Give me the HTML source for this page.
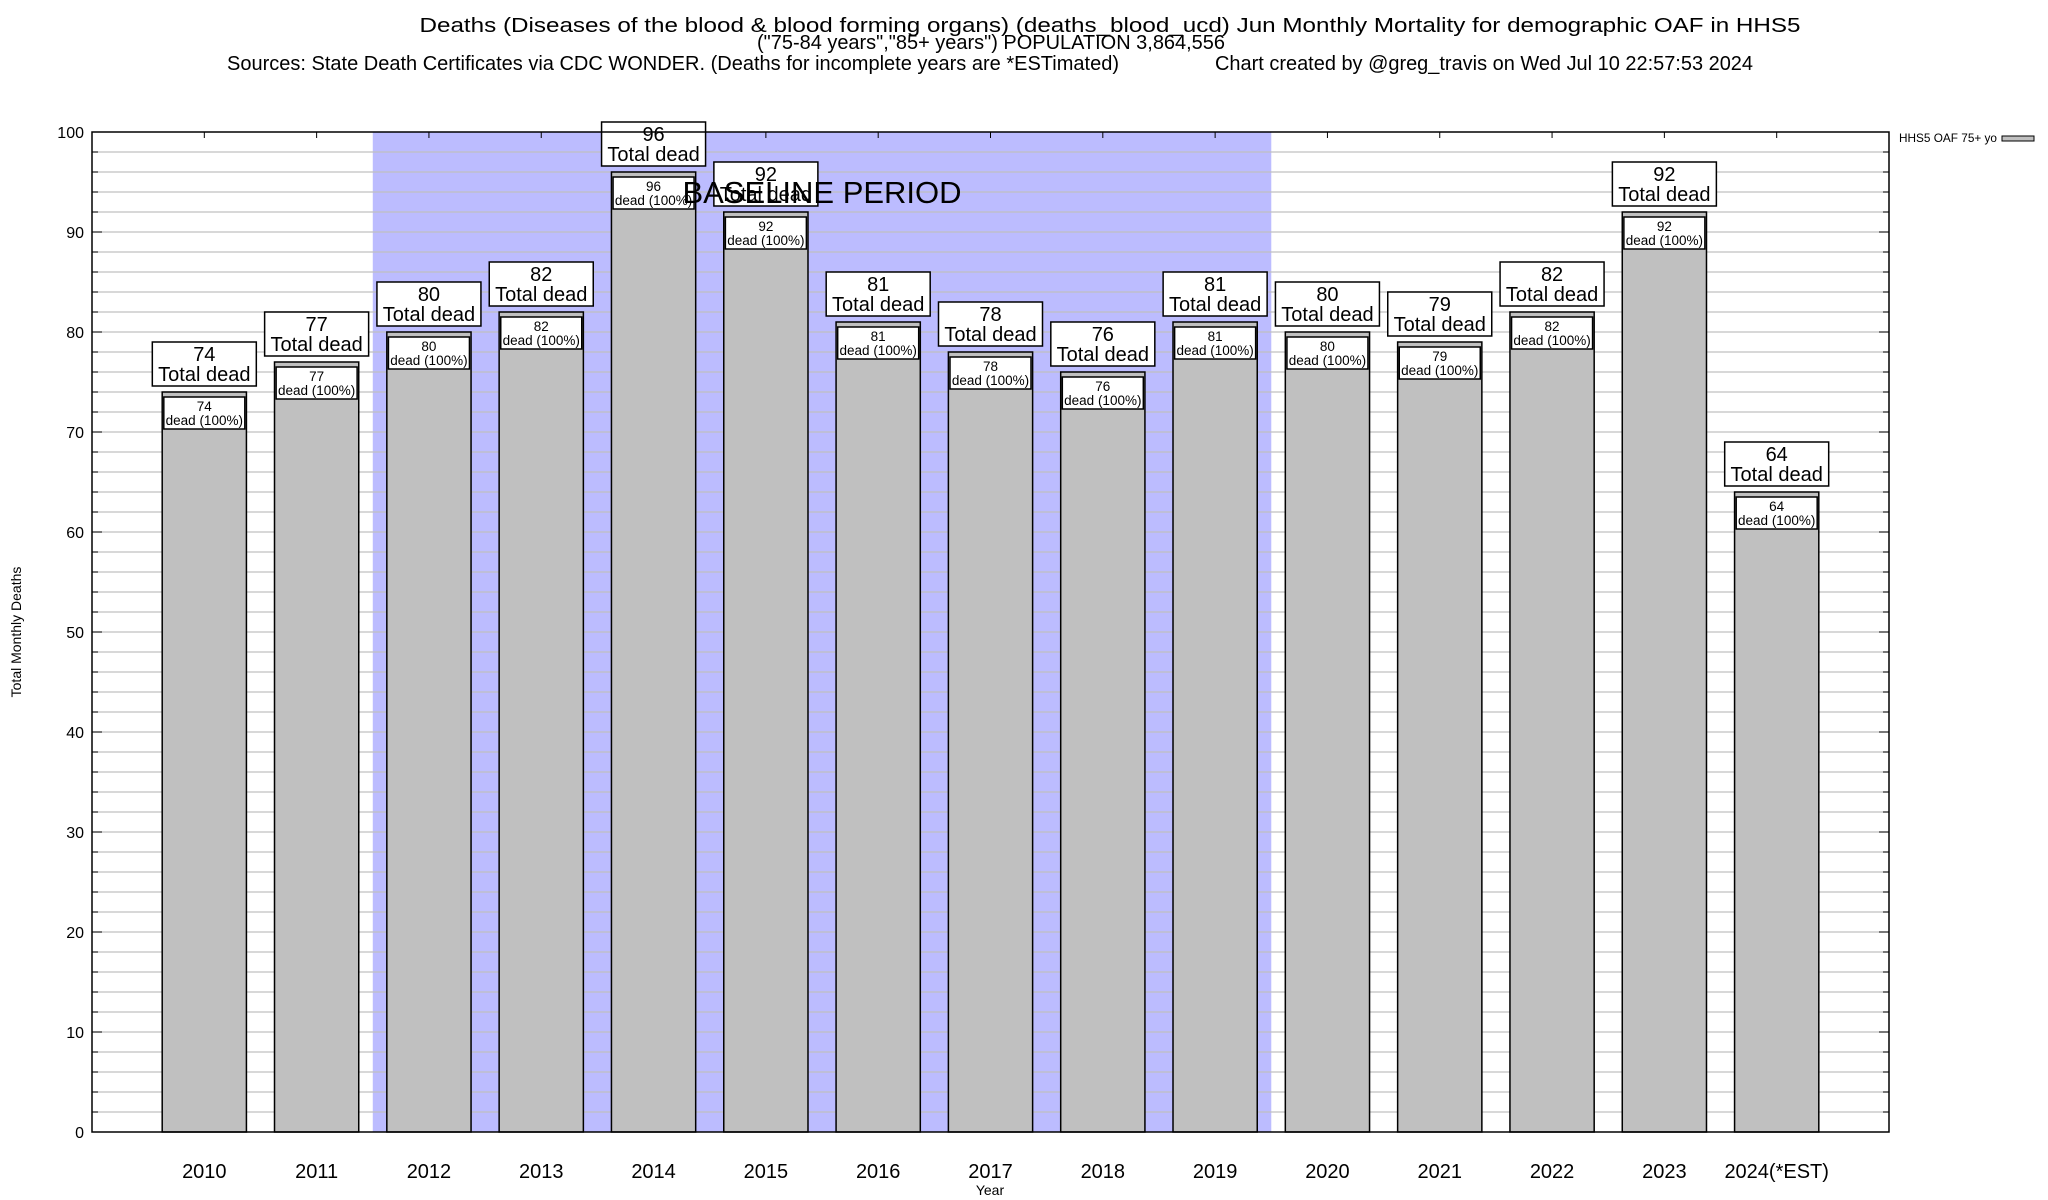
<!DOCTYPE html>
<html><head><meta charset="utf-8"><style>body{margin:0;background:#fff}svg{display:block;font-family:"Liberation Sans",sans-serif}</style></head>
<body>
<svg id="c" width="2048" height="1200" viewBox="0 0 2048 1200" xmlns="http://www.w3.org/2000/svg">
<rect width="2048" height="1200" fill="#fff"/>
<text x="1110" y="32" font-size="20" text-anchor="middle" textLength="1381" lengthAdjust="spacingAndGlyphs">Deaths (Diseases of the blood &amp; blood forming organs) (deaths_blood_ucd) Jun Monthly Mortality for demographic OAF in HHS5</text>
<text x="991" y="49" font-size="20" text-anchor="middle" textLength="468" lengthAdjust="spacingAndGlyphs">("75-84 years","85+ years") POPULATION 3,864,556</text>
<text x="227" y="70" font-size="20" textLength="892" lengthAdjust="spacingAndGlyphs">Sources: State Death Certificates via CDC WONDER. (Deaths for incomplete years are *ESTimated)</text>
<text x="1215" y="70" font-size="20" textLength="538" lengthAdjust="spacingAndGlyphs">Chart created by @greg_travis on Wed Jul 10 22:57:53 2024</text>
<g id="plot"></g>
<text x="1899" y="142" font-size="12" textLength="98" lengthAdjust="spacingAndGlyphs">HHS5 OAF 75+ yo</text>
<rect x="2002" y="136" width="32" height="5" fill="#c0c0c0" stroke="#000" stroke-width="1"/>
<text x="990" y="1195" font-size="14" text-anchor="middle">Year</text>
<text transform="translate(21,632) rotate(-90)" font-size="14" text-anchor="middle">Total Monthly Deaths</text>
</svg>
<script>
const categories = ["2010","2011","2012","2013","2014","2015","2016","2017","2018","2019","2020","2021","2022","2023","2024(*EST)"];
const deaths = [74,77,80,82,96,92,81,78,76,81,80,79,82,92,64];
const yTicks = [0,10,20,30,40,50,60,70,80,90,100];
const baselineStart = 2, baselineEnd = 9;

const NS="http://www.w3.org/2000/svg";
const L=92,R=1889,T=132,B=1132,ymax=100;
const step=(R-L)/(categories.length+1);
const xC=i=>L+step*(i+1);
const yS=v=>B-(v/ymax)*(B-T);
const g=document.getElementById('plot');
function mk(tag,attrs,parent){const e=document.createElementNS(NS,tag);for(const k in attrs)e.setAttribute(k,attrs[k]);(parent||g).appendChild(e);return e;}

const bl=mk('rect',{x:xC(baselineStart)-step/2,y:T,width:(baselineEnd-baselineStart+1)*step,height:B-T,fill:'#bcbcff'});


for(let v=2;v<ymax;v+=2){
  const gl=mk('line',{x1:L,x2:R,y1:yS(v),y2:yS(v),stroke:'#c0c0c0','stroke-width':1.2});
  
  
  mk('line',{x1:L,x2:L+6,y1:yS(v),y2:yS(v),stroke:'#000','stroke-width':1});
  mk('line',{x1:R-6,x2:R,y1:yS(v),y2:yS(v),stroke:'#000','stroke-width':1});
}
yTicks.forEach(v=>{
  mk('line',{x1:L,x2:L+10,y1:yS(v),y2:yS(v),stroke:'#000','stroke-width':1});
  mk('line',{x1:R-10,x2:R,y1:yS(v),y2:yS(v),stroke:'#000','stroke-width':1});
  const t=mk('text',{x:L-8,y:yS(v)+6,'font-size':16,'text-anchor':'end'});
  t.textContent=v;
  
  
});
const bw=step*0.75;
categories.forEach((c,i)=>{
  const x=xC(i),v=deaths[i],yt=yS(v);
  mk('line',{x1:x,x2:x,y1:T,y2:T+6,stroke:'#000','stroke-width':1});
  const b=mk('rect',{x:x-bw/2,y:yt,width:bw,height:B-yt,fill:'#c0c0c0',stroke:'#000','stroke-width':1.5});
  
  
  const ib=mk('rect',{x:x-40.5,y:yt+5,width:81,height:32,fill:'#fff',stroke:'#000','stroke-width':1.5});
  
  
  const t1=mk('text',{x:x,y:yt+19,'font-size':13.5,'text-anchor':'middle'});t1.textContent=v;
  
  
  const t2=mk('text',{x:x,y:yt+33,'font-size':13.5,'text-anchor':'middle'});t2.textContent='dead (100%)';
  
  
  const ob=mk('rect',{x:x-52,y:yt-50,width:104,height:44,fill:'#fff',stroke:'#000','stroke-width':1.5});
  
  
  const t3=mk('text',{x:x,y:yt-31,'font-size':20,'text-anchor':'middle'});t3.textContent=v;
  
  
  const t4=mk('text',{x:x,y:yt-11,'font-size':20,'text-anchor':'middle'});t4.textContent='Total dead';
  
  
  const xl=mk('text',{x:x,y:1178,'font-size':20,'text-anchor':'middle'});xl.textContent=c;
  
  
});
const fr=mk('rect',{x:L,y:T,width:R-L,height:B-T,fill:'none',stroke:'#000','stroke-width':1.5});


const bt=mk('text',{x:822,y:203,'font-size':31,'text-anchor':'middle'});
bt.textContent='BASELINE PERIOD';


</script>
</body></html>
